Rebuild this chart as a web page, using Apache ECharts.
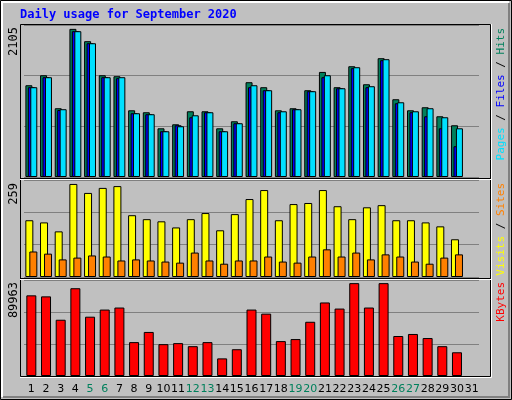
<!DOCTYPE html>
<html>
<head>
<meta charset="utf-8">
<script src="https://cdn.jsdelivr.net/npm/echarts@6/dist/echarts.min.js"></script>
<style>html,body{margin:0;padding:0;background:#c0c0c0}#main{width:512px;height:400px}</style>
</head>
<body>
<div id="main"></div>
<script>
// 日期 / 数据
var days = ['1','2','3','4','5','6','7','8','9','10','11','12','13','14','15','16','17','18','19','20','21','22','23','24','25','26','27','28','29','30','31'];
var weekend = ['5','6','12','13','19','20','26','27'];
var hits   = [1304,1446,977,2105,1930,1446,1432,948,920,692,749,934,934,692,792,1347,1276,948,977,1233,1493,1276,1574,1318,1688,1105,948,991,863,735];
var files  = [1276,1418,952,2072,1901,1418,1404,906,892,650,735,849,920,650,764,1276,1233,920,963,1219,1418,1261,1546,1276,1660,1048,920,863,692,437];
var pages  = [1276,1418,963,2072,1901,1418,1418,906,892,650,721,877,920,650,764,1304,1233,934,963,1219,1446,1261,1560,1290,1674,1062,934,977,849,692];
var visits = [158,152,127,259,234,248,253,172,161,155,138,161,178,130,175,217,242,158,203,206,242,197,161,194,200,158,158,152,141,105];
var sites  = [71,65,49,54,60,57,46,49,46,43,40,68,46,37,46,46,57,43,40,57,77,57,68,49,63,57,43,37,54,63];
var kbytes = [78140,77150,54500,85030,57450,64350,66320,32830,42680,30860,31850,28890,32830,17070,25940,64350,60410,33810,35780,52530,71240,65330,89963,66320,89963,38740,40710,36770,28890,22980];

var chart = echarts.init(document.getElementById('main'));
var font = 'DejaVu Sans Mono';
var grids = [
    {left: 24, right: 33, top: 25, height: 152},
    {left: 24, right: 33, top: 180, height: 97},
    {left: 24, right: 33, top: 280, height: 96}
];
var ymax = [2160, 270, 93000];
var yint = [720, 90, 31000];

function xAxis(i) {
    return {
        type: 'category', gridIndex: i, data: days,
        axisLine: {show: false}, axisTick: {show: false},
        axisLabel: {
            show: i == 2, interval: 0, margin: 8, fontSize: 11, fontFamily: 'DejaVu Sans',
            formatter: function(v) { return weekend.indexOf(v) >= 0 ? '{w|' + v + '}' : v; },
            color: '#000', rich: {w: {color: '#00805c', fontSize: 11, fontFamily: 'DejaVu Sans'}}
        }
    };
}
function yAxis(i) {
    return {
        type: 'value', gridIndex: i, min: 0, max: ymax[i], interval: yint[i],
        axisLabel: {show: false}, axisLine: {show: false}, axisTick: {show: false},
        splitLine: {lineStyle: {color: '#808080', width: 1}}
    };
}
function bar(name, data, color, g, w, gap) {
    return {
        name: name, type: 'bar', data: data, xAxisIndex: g, yAxisIndex: g,
        barWidth: w, barGap: gap, animation: false,
        itemStyle: {color: color, borderColor: '#000', borderWidth: 1}
    };
}
function vtext(x, y, rich, str) {
    return {type: 'text', x: x, y: y, rotation: Math.PI / 2,
        style: {text: str, rich: rich, font: '11px ' + font, fill: '#000', align: 'right', verticalAlign: 'middle'}};
}

var option = {
    backgroundColor: '#c0c0c0',
    grid: grids,
    xAxis: [xAxis(0), xAxis(1), xAxis(2)],
    yAxis: [yAxis(0), yAxis(1), yAxis(2)],
    series: [
        bar('Hits', hits, '#00805c', 0, 7, '-65%'),
        bar('Files', files, '#0000ff', 0, 7, '-65%'),
        bar('Pages', pages, '#00e0ff', 0, 7, '-65%'),
        bar('Visits', visits, '#ffff00', 1, 8, '-50%'),
        bar('Sites', sites, '#ff8000', 1, 8, '-50%'),
        bar('KBytes', kbytes, '#ff0000', 2, 10, '0%')
    ],
    graphic: [
        // 外框
        {type: 'rect', shape: {x: 0.5, y: 0.5, width: 511, height: 399}, style: {fill: null, stroke: '#000'}, z: -1},
        {type: 'polyline', shape: {points: [[2, 397], [2, 2], [509, 2]]}, style: {stroke: '#fff', lineWidth: 2, fill: null}},
        {type: 'polyline', shape: {points: [[3, 397], [509, 397], [509, 3]]}, style: {stroke: '#808080', lineWidth: 2, fill: null}},
        // 面板框
        {type: 'rect', shape: {x: 20.5, y: 24.5, width: 470, height: 352}, style: {fill: null, stroke: '#000'}, z: 10},
        {type: 'polyline', shape: {points: [[491.5, 24], [491.5, 377.5], [20, 377.5]]}, style: {fill: null, stroke: '#fff'}, z: 10},
        {type: 'line', shape: {x1: 20, y1: 178.5, x2: 491, y2: 178.5}, style: {stroke: '#000'}, z: 10},
        {type: 'line', shape: {x1: 20, y1: 179.5, x2: 491, y2: 179.5}, style: {stroke: '#fff'}, z: 10},
        {type: 'line', shape: {x1: 20, y1: 278.5, x2: 491, y2: 278.5}, style: {stroke: '#000'}, z: 10},
        {type: 'line', shape: {x1: 20, y1: 279.5, x2: 491, y2: 279.5}, style: {stroke: '#fff'}, z: 10},
        // 标题
        {type: 'text', x: 20, y: 9, style: {text: 'Daily usage for September 2020', font: 'bold 12px ' + font, fill: '#0000ff'}},
        // 左侧最大值
        {type: 'text', x: 14, y: 27, rotation: Math.PI / 2, style: {text: '2105', font: '12px ' + font, fill: '#000', align: 'right', verticalAlign: 'middle'}},
        {type: 'text', x: 14, y: 183, rotation: Math.PI / 2, style: {text: '259', font: '12px ' + font, fill: '#000', align: 'right', verticalAlign: 'middle'}},
        {type: 'text', x: 14, y: 282, rotation: Math.PI / 2, style: {text: '89963', font: '12px ' + font, fill: '#000', align: 'right', verticalAlign: 'middle'}},
        // 右侧图例
        vtext(501, 28, {p: {fill: '#00e0ff'}, s: {fill: '#000'}, f: {fill: '#0000ff'}, h: {fill: '#00805c'}}, '{p|Pages} {s|/} {f|Files} {s|/} {h|Hits}'),
        vtext(501, 183, {v: {fill: '#ffff00'}, s: {fill: '#000'}, t: {fill: '#ff8000'}}, '{v|Visits} {s|/} {t|Sites}'),
        vtext(501, 282, {k: {fill: '#ff0000'}}, '{k|KBytes}')
    ]
};
chart.setOption(option);
</script>
</body>
</html>
